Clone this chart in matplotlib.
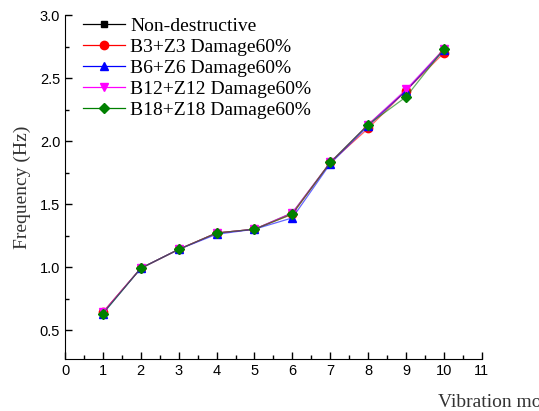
import matplotlib.pyplot as plt
from matplotlib.ticker import MultipleLocator
from matplotlib.lines import Line2D

# 振型阶数与频率数据
modes = [1, 2, 3, 4, 5, 6, 7, 8, 9, 10]
f_intact = [0.64, 0.99, 1.14, 1.27, 1.30, 1.43, 1.83, 2.13, 2.40, 2.73]
f_b3z3 = [0.64, 0.99, 1.14, 1.27, 1.30, 1.42, 1.83, 2.10, 2.40, 2.70]
f_b6z6 = [0.63, 0.99, 1.14, 1.26, 1.30, 1.39, 1.82, 2.12, 2.40, 2.72]
f_b12z12 = [0.64, 0.99, 1.14, 1.27, 1.30, 1.43, 1.83, 2.13, 2.41, 2.73]
f_b18z18 = [0.63, 0.99, 1.14, 1.27, 1.30, 1.42, 1.83, 2.13, 2.35, 2.73]
labels = ['Non-destructive', 'B3+Z3 Damage60%', 'B6+Z6 Damage60%',
          'B12+Z12 Damage60%', 'B18+Z18 Damage60%']

plt.rcParams['font.family'] = ['Liberation Sans', 'DejaVu Sans']
fig = plt.figure(figsize=(5.39, 4.11), dpi=100)
ax = fig.add_axes([0.1206, 0.1265, 0.7734, 0.837])

series = [f_intact, f_b3z3, f_b6z6, f_b12z12, f_b18z18]
colors = ['black', 'red', 'blue', 'magenta', 'green']
markers = ['s', 'o', '^', 'v', 'D']
sizes = [5, 6, 6, 6, 5]
for y, c, m, s in zip(series, colors, markers, sizes):
    ax.plot(modes, y, color=c, lw=0.9, alpha=0.6)
    ax.plot(modes, y, ls='none', marker=m, ms=s, color=c)

# 图例用的句柄
handles = [Line2D([], [], color=c, lw=0.9, marker=m, ms=s, mfc=c, mec=c)
           for c, m, s in zip(colors, markers, sizes)]
leg = ax.legend(handles, labels, loc='upper left', bbox_to_anchor=(0.0, 1.045),
                frameon=False, handlelength=2.2, handletextpad=0.25,
                labelspacing=0.18, prop={'family': 'Liberation Serif', 'size': 14})

ax.set_xlim(0, 11)
ax.set_ylim(0.27, 3.0)
ax.xaxis.set_major_locator(MultipleLocator(1))
ax.xaxis.set_minor_locator(MultipleLocator(0.5))
ax.set_yticks([0.5, 1.0, 1.5, 2.0, 2.5, 3.0])
ax.yaxis.set_minor_locator(MultipleLocator(0.25))
ax.tick_params(which='both', direction='in', labelsize=10.5, width=1)
ax.tick_params(which='major', length=5)
ax.tick_params(which='minor', length=3)
ax.spines['right'].set_visible(False)
ax.spines['top'].set_visible(False)

ax.set_ylabel('Frequency (Hz)', family='Liberation Serif', fontsize=14, color='#333333',
              labelpad=6)
fig.text(438 / 539, 1 - 402 / 411, 'Vibration mode', family='Liberation Serif',
         fontsize=14, color='#333333', va='center', ha='left')

fig.savefig('out.png', dpi=100)
